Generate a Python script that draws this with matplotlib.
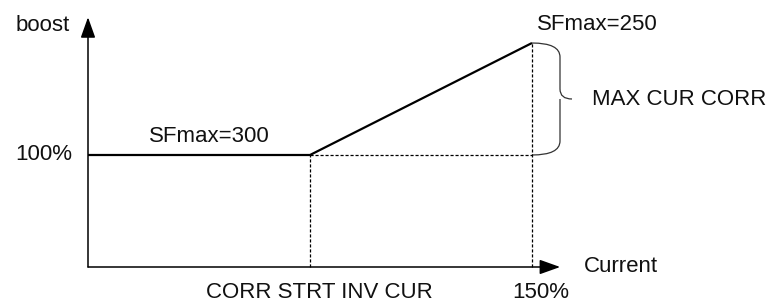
import matplotlib

matplotlib.use("Agg")
import matplotlib.pyplot as plt
from matplotlib.path import Path
from matplotlib.patches import PathPatch


# boost curve, current in % on x, boost in % on y
CURRENT = [0, 75, 150]
BOOST = [100, 100, 200]
CORR_STRT = 75
MAX_CUR = 150
BASE_BOOST = 100
TOP_BOOST = 200
X_AXIS_END = 159.5
Y_AXIS_END = 223

LABEL_LOW = "SFmax=300"
LABEL_HIGH = "SFmax=250"
LABEL_BRACE = "MAX CUR CORR"
X_LABEL = "Current"
Y_LABEL = "boost"
X_TICK_LABELS = ["CORR STRT INV CUR", "150%"]
Y_TICK_LABEL = "100%"

plt.rcParams["font.family"] = ["Liberation Sans", "DejaVu Sans"]
FS = 16

fig = plt.figure(figsize=(7.78, 3.04), dpi=100)
ax = fig.add_axes([0, 0, 1, 1])
# pixel scale: origin at (88, 267) px, 2.96 px per % current, 1.12 px per % boost
ax.set_xlim(-88 / 2.96, (778 - 88) / 2.96)
ax.set_ylim((267 - 304) / 1.12, 267 / 1.12)
ax.axis("off")

arrow = dict(arrowstyle="-|>,head_length=0.42,head_width=0.15",
             mutation_scale=30, color="black", lw=1.1, shrinkA=0, shrinkB=0)
ax.annotate("", xy=(X_AXIS_END, 0), xytext=(0, 0), arrowprops=arrow)
ax.annotate("", xy=(0, Y_AXIS_END), xytext=(0, 0), arrowprops=arrow)

# guide lines
dash = dict(color="black", lw=0.9, linestyle=(0, (2.5, 1.5)))
ax.plot([CORR_STRT, CORR_STRT], [0, BASE_BOOST], **dash)
ax.plot([MAX_CUR, MAX_CUR], [0, TOP_BOOST], **dash)
ax.plot([CORR_STRT, MAX_CUR], [BASE_BOOST, BASE_BOOST], **dash)

# boost curve
ax.plot(CURRENT, BOOST, color="black", lw=1.6, solid_capstyle="butt")

# curly brace between 100% and top boost
sx = 1 / 2.96
sy = 1 / 1.12
x0 = MAX_CUR
y_top = TOP_BOOST
y_bot = BASE_BOOST
y_mid = (y_top + y_bot) / 2
xr = x0 + 28 * sx
xt = x0 + 40 * sx
verts = [
    (x0, y_top),
    (xr, y_top), (xr, y_top - 14 * sy),
    (xr, y_mid + 10 * sy),
    (xr, y_mid), (xt, y_mid),
    (xr, y_mid), (xr, y_mid - 10 * sy),
    (xr, y_bot + 14 * sy),
    (xr, y_bot), (x0, y_bot),
]
codes = [
    Path.MOVETO,
    Path.CURVE3, Path.CURVE3,
    Path.LINETO,
    Path.CURVE3, Path.CURVE3,
    Path.MOVETO, Path.CURVE3,
    Path.LINETO,
    Path.CURVE3, Path.CURVE3,
]
ax.add_patch(PathPatch(Path(verts, codes), fill=False, lw=0.9, color="#333333"))

# texts
def label(text, xy, dx, dy, ha="center"):
    ax.annotate(text, xy=xy, xytext=(dx * 0.72, dy * 0.72), textcoords="offset points",
                ha=ha, va="center", fontsize=FS, color="#111111")


label(Y_LABEL, (0, Y_AXIS_END), -18, -8, ha="right")
label(Y_TICK_LABEL, (0, BASE_BOOST), -16, 0, ha="right")
label(LABEL_LOW, (0, BASE_BOOST), 121, 18)
label(LABEL_HIGH, (MAX_CUR, TOP_BOOST), 65, 19)
label(LABEL_BRACE, (xt, y_mid), 20, -1, ha="left")
label(X_LABEL, (X_AXIS_END, 0), 24, 0, ha="left")
label(X_TICK_LABELS[0], (CORR_STRT, 0), 9, -25)
label(X_TICK_LABELS[1], (MAX_CUR, 0), 9, -25)

fig.savefig("out.png", dpi=100)
